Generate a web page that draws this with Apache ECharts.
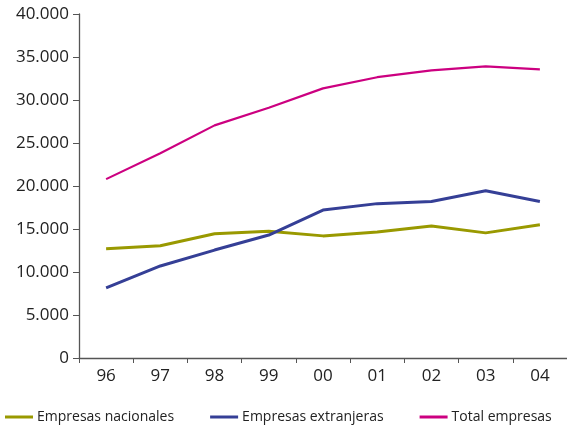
<!DOCTYPE html>
<html>
<head>
<meta charset="utf-8">
<script src="https://cdn.jsdelivr.net/npm/echarts@6/dist/echarts.min.js"></script>
<style>html,body{margin:0;padding:0;background:#fff;}#c{width:567px;height:428px;}</style>
</head>
<body>
<div id="c"></div>
<script>
const categories = ['96','97','98','99','00','01','02','03','04'];
const nacionales = [12700, 13050, 14450, 14750, 14200, 14650, 15350, 14550, 15500];
const extranjeras = [8150, 10700, 12550, 14300, 17200, 17950, 18200, 19450, 18200];
const total = [20800, 23800, 27050, 29100, 31350, 32650, 33450, 33900, 33550];
const seriesNames = ['Empresas nacionales', 'Empresas extranjeras', 'Total empresas'];
const colors = ['#999900', '#353f96', '#cc0080'];

const font = '"Open Sans", sans-serif';
const chart = echarts.init(document.getElementById('c'), null, {renderer: 'canvas'});
chart.setOption({
  animation: false,
  color: colors,
  textStyle: {fontFamily: font},
  grid: {left: 79, top: 14, bottom: 70, width: 494, containLabel: false},
  legend: {
    left: 0, top: 405,
    itemWidth: 28, itemHeight: 3, itemGap: 36,
    icon: 'rect',
    textStyle: {fontFamily: font, fontSize: 14, color: '#222', padding: [0,0,0,-1]},
    data: seriesNames
  },
  xAxis: {
    type: 'category',
    data: categories,
    boundaryGap: true,
    axisLine: {lineStyle: {color: '#555', width: 1.3}},
    axisTick: {show: true, length: 5, lineStyle: {color: '#555'}},
    axisLabel: {fontFamily: font, fontSize: 17, color: '#222', margin: 10}
  },
  yAxis: {
    type: 'value',
    min: 0, max: 40000, interval: 5000,
    axisLine: {show: true, lineStyle: {color: '#555', width: 1.3}},
    axisTick: {show: true, length: 6, lineStyle: {color: '#555'}},
    splitLine: {show: false},
    axisLabel: {
      fontFamily: font, fontSize: 17, color: '#222', margin: 10,
      formatter: v => v === 0 ? '0' : String(v).replace(/\B(?=(\d{3})+(?!\d))/g, '.')
    }
  },
  series: [
    {name: seriesNames[0], type: 'line', data: nacionales, symbol: 'none', lineStyle: {width: 3}},
    {name: seriesNames[1], type: 'line', data: extranjeras, symbol: 'none', lineStyle: {width: 3}},
    {name: seriesNames[2], type: 'line', data: total, symbol: 'none', lineStyle: {width: 2.2}}
  ]
});
</script>
</body>
</html>
